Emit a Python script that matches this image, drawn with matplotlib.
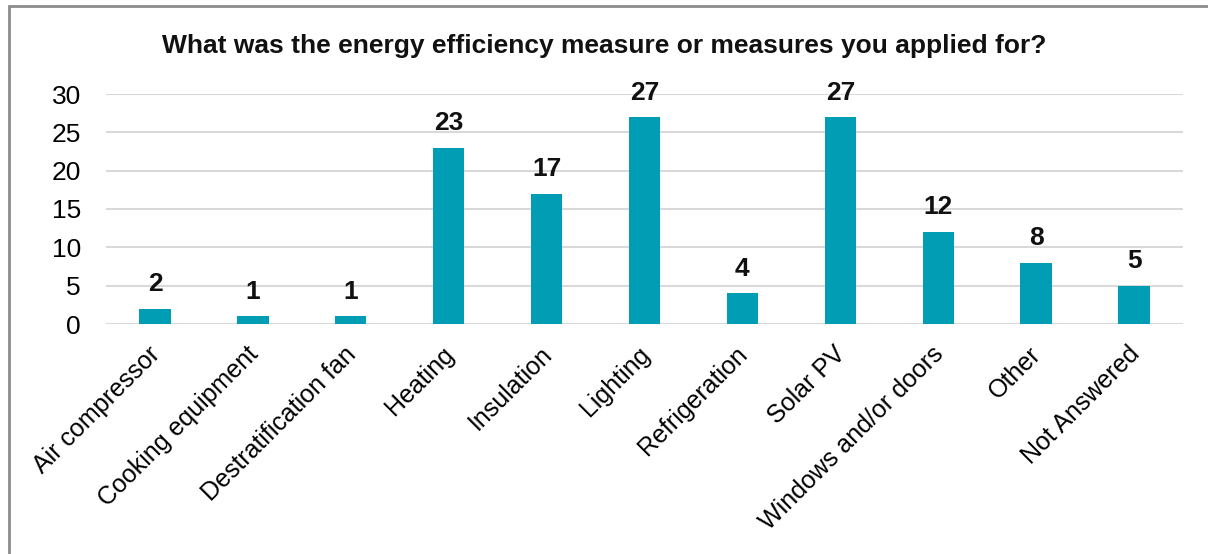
import matplotlib.pyplot as plt
from matplotlib.patches import Rectangle
from matplotlib.transforms import ScaledTranslation

categories = ["Air compressor", "Cooking equipment", "Destratification fan", "Heating",
              "Insulation", "Lighting", "Refrigeration", "Solar PV",
              "Windows and/or doors", "Other", "Not Answered"]
counts = [2, 1, 1, 23, 17, 27, 4, 27, 12, 8, 5]
yticks = [0, 5, 10, 15, 20, 25, 30]

plt.rcParams['font.family'] = ['Liberation Sans', 'DejaVu Sans']

fig = plt.figure(figsize=(12.08, 5.54), dpi=100)
# outer frame of the chart area (runs off the right and bottom edges)
fig.patches.append(Rectangle((9 / 1208, -0.05), 1.1, 1.05 - 6 / 554, transform=fig.transFigure,
                             fill=False, edgecolor='#8c8c8c', linewidth=2))

ax = fig.add_axes([106 / 1208, 1 - 324 / 554, (1183 - 106) / 1208, 230 / 554])
x = range(len(categories))
bars = ax.bar(x, counts, width=0.32, color='#009db5', zorder=3)
for b, v in zip(bars, counts):
    ax.annotate(str(v), (b.get_x() + b.get_width() / 2, v), xytext=(0, 9),
                textcoords='offset points', ha='center', va='bottom',
                fontsize=19, fontweight='bold', color='#111111')

ax.set_xlim(-0.5, len(categories) - 0.5)
ax.set_ylim(0, 30)
ax.set_yticks(yticks)
ax.set_yticklabels([str(t) for t in yticks], fontsize=19)
ax.set_xticks(list(x))
ax.set_xticklabels(categories, rotation=45, ha='right', rotation_mode='anchor', fontsize=18)
ax.tick_params(length=0)
ax.tick_params(axis='y', pad=18)
ax.tick_params(axis='x', pad=13)
# nudge the slanted labels a little to the left
shift = ScaledTranslation(-7 / 100, 0, fig.dpi_scale_trans)
for lab in ax.get_xticklabels():
    lab.set_transform(lab.get_transform() + shift)
ax.grid(axis='y', color='#d9d9d9', linewidth=1.5, zorder=0)
for s in ax.spines.values():
    s.set_visible(False)

fig.text(0.5, 1 - 46 / 554, "What was the energy efficiency measure or measures you applied for?",
         ha='center', va='center', fontsize=19, fontweight='bold', color='#111111')

fig.savefig("out.png", dpi=100)
